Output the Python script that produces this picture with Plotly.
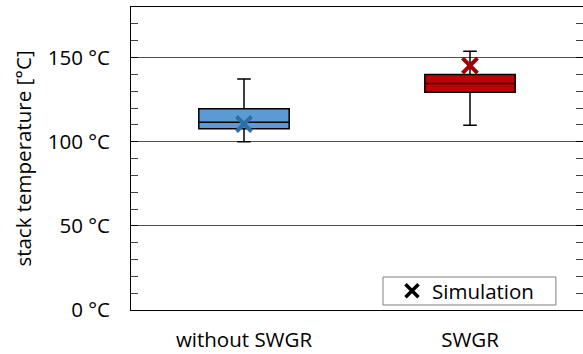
import plotly.graph_objects as go

# Stack temperature statistics per operating mode
categories = ["without SWGR", "SWGR"]
q1 = [107.6, 129.3]
median = [111.5, 134.5]
q3 = [119.5, 139.9]
lower_whisker = [100.0, 109.7]
upper_whisker = [137.3, 153.7]
simulation = [110.5, 145.2]

box_fill = ["#5B9BD5", "#C00000"]
sim_color = ["#2E6EA6", "#A00000"]

FONT = "Open Sans"
FS = 20.5

fig = go.Figure()

for i, cat in enumerate(categories):
    fig.add_trace(go.Box(
        x=[cat],
        q1=[q1[i]], median=[median[i]], q3=[q3[i]],
        lowerfence=[lower_whisker[i]], upperfence=[upper_whisker[i]],
        fillcolor=box_fill[i],
        line=dict(color="black", width=1.5),
        width=0.4,
        whiskerwidth=0.15,
        boxpoints=False,
        showlegend=False,
        hoverinfo="skip",
    ))

for i, cat in enumerate(categories):
    fig.add_trace(go.Scatter(
        x=[cat], y=[simulation[i]],
        mode="markers",
        marker=dict(symbol="x-thin", size=15, line=dict(color=sim_color[i], width=4)),
        showlegend=False,
    ))

# Legend entry drawn in black
fig.add_trace(go.Scatter(
    x=[None], y=[None], mode="markers", name="Simulation",
    marker=dict(symbol="x-thin", size=13, color="black", line=dict(color="black", width=3.5)),
))

# Frame around the legend
fig.add_shape(
    type="rect", xref="paper", yref="paper",
    x0=0.5575, x1=0.940, y0=0.0165, y1=0.1089,
    line=dict(color="#7f7f7f", width=1), fillcolor="white", layer="above",
)

fig.update_layout(
    width=583, height=354,
    margin=dict(l=131, r=0, t=7, b=44),
    paper_bgcolor="white", plot_bgcolor="white",
    font=dict(family=FONT, size=FS, color="black"),
    legend=dict(
        x=0.5575, y=0.0627, xanchor="left", yanchor="middle",
        borderwidth=0,
        font=dict(family=FONT, size=FS),
        indentation=9,
        bgcolor="rgba(0,0,0,0)",
    ),
)

fig.update_xaxes(
    type="category", range=[-0.5, 1.5],
    showline=True, linecolor="black", linewidth=1, mirror=True,
    ticks="", showgrid=False, ticklabelstandoff=11,
    automargin=False,
)

fig.update_yaxes(
    range=[0, 180],
    tickvals=[0, 50, 100, 150],
    ticktext=["0 °C", "50 °C", "100 °C", "150 °C"],
    ticks="inside", ticklen=7, tickcolor="black",
    minor=dict(dtick=10, ticks="inside", ticklen=7, tickcolor="#404040", showgrid=False),
    showline=True, linecolor="black", linewidth=1, mirror="ticks",
    showgrid=True, gridcolor="#505050", gridwidth=1,
    zeroline=False,
    ticklabelstandoff=16,
    automargin=False,
    title=dict(text="stack temperature [°C]", standoff=10, font=dict(family=FONT, size=FS)),
)

fig.write_html("out.html")
